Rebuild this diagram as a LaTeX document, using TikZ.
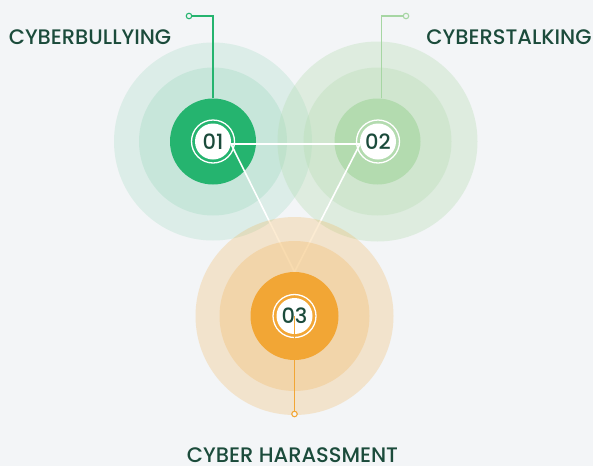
\documentclass[tikz,border=0pt]{standalone}
\usepackage{fontspec}
\setmainfont{Poppins}
\newfontfamily\labelfont{Poppins Medium}
\definecolor{bg}{HTML}{F3F5F7}
\definecolor{txt}{HTML}{1B4B3B}
\definecolor{gA}{HTML}{25B46F}
\definecolor{gB}{HTML}{B3DBAF}
\definecolor{gBline}{HTML}{A6D6A3}
\definecolor{orA}{HTML}{F2A635}
\tikzset{
  title/.style={font=\labelfont\fontsize{21}{22}\selectfont, text=txt, inner sep=0pt},
  core/.style={circle, fill=#1, minimum size=86pt, inner sep=0pt},
  badge/.style={circle, fill=white, minimum size=36pt, inner sep=0pt, font=\labelfont\fontsize{21}{22}\selectfont, text=txt},
  pin/.style={circle, draw=#1, fill=bg, minimum size=5.5pt, inner sep=0pt, line width=1.1pt},
}
\begin{document}
\begin{tikzpicture}[x=1pt,y=-1pt]
\fill[bg] (0,0) rectangle (593,466);
% halos 1 and 2
\foreach \r in {99,74} \fill[gA,opacity=0.11] (213,141.5) circle (\r);
\foreach \r in {100,74} \fill[gB,opacity=0.32] (377.5,141.5) circle (\r);
\node[core=gA] (c1) at (213,141.5) {};
\node[core=gB] (c2) at (377.5,141.5) {};
\node[badge] (n1) at (213,141.5) {01}; \draw[white,line width=1.3pt] (n1) circle (21.5);
\node[badge] (n2) at (378,141.5) {02}; \draw[white,line width=1.3pt] (n2) circle (21.5);
% triangle
\coordinate (apex) at (294.5,272);
\draw[white,line width=1.8pt] (n1.-8) -- (n2.-172);
\draw[white,line width=1.6pt] (n1.-8) -- (apex) -- (n2.-172);
% halo 3
\foreach \r in {99,75} \fill[orA,opacity=0.22] (294.5,316) circle (\r);
\node[core=orA,minimum size=88pt] (c3) at (294.5,316) {};
\node[badge] (n3) at (294.5,316) {03}; \draw[white,line width=1.3pt] (n3) circle (21.5);
% pins
\node[pin=gA] (d1) at (189,16) {};
\node[pin=gBline] (d2) at (406,16) {};
\node[pin=orA] (d3) at (294.5,414) {};
\draw[gA,line width=1.2pt] (c1.north) |- (d1);
\draw[gBline,line width=1.2pt] (c2.85) |- (d2);
\draw[orA,line width=1.2pt] (n3.center) -- (d3);
% labels
\node[title] (t1) at (90,37) {CYBERBULLYING};
\node[title] (t2) at (509,37) {CYBERSTALKING};
\node[title] (t3) at (292.5,455) {CYBER HARASSMENT};
\end{tikzpicture}
\end{document}
